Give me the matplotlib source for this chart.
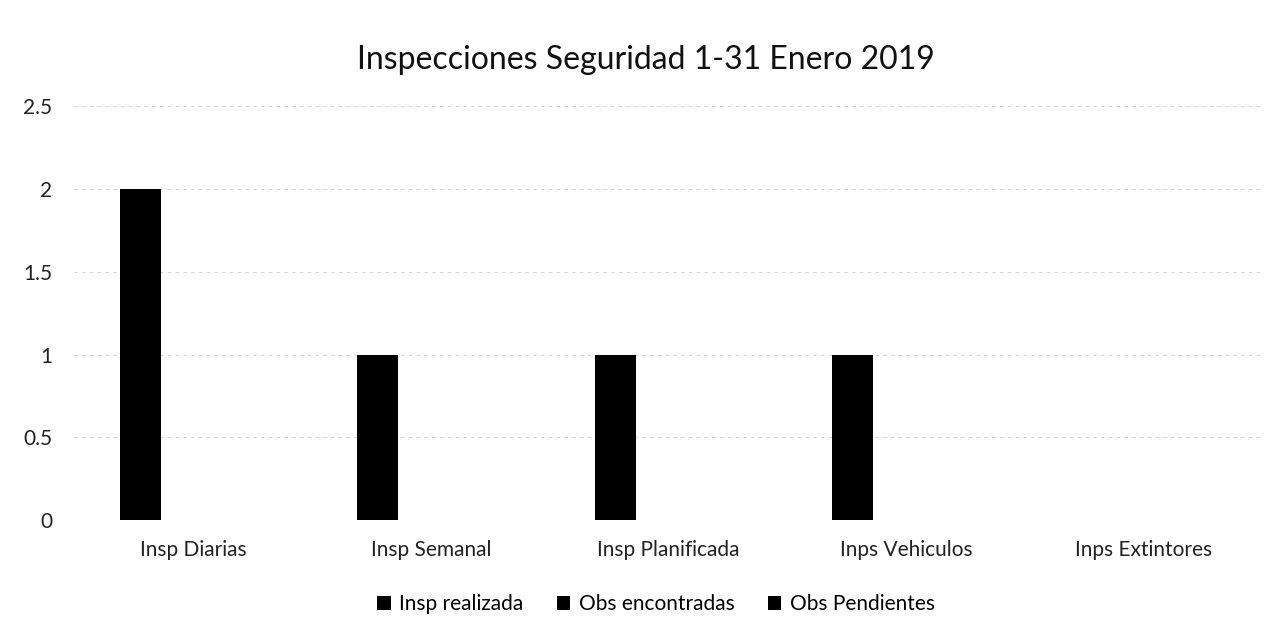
import numpy as np
import matplotlib
matplotlib.use("Agg")
import matplotlib.pyplot as plt

categories = ["Insp Diarias", "Insp Semanal", "Insp Planificada", "Inps Vehiculos", "Inps Extintores"]
series_names = ["Insp realizada", "Obs encontradas", "Obs Pendientes"]
insp_realizada = [2, 1, 1, 1, 0]
obs_encontradas = [0, 0, 0, 0, 0]
obs_pendientes = [0, 0, 0, 0, 0]
series_values = [insp_realizada, obs_encontradas, obs_pendientes]
yticks = [0, 0.5, 1, 1.5, 2, 2.5]
ytick_labels = ["0", "0.5", "1", "1.5", "2", "2.5"]

plt.rcParams['font.family'] = ['Lato', 'DejaVu Sans']

fig = plt.figure(figsize=(12.84, 6.32), dpi=100)
ax = fig.add_axes([0.058, 0.177, 0.925, 0.655])

x = np.arange(len(categories))
w = 0.173
shift = -0.05
for k, (name, vals) in enumerate(zip(series_names, series_values)):
    ax.bar(x + (k - 1) * w + shift, vals, width=w, color="black", label=name)

ax.set_xlim(-0.5, len(categories) - 0.5)
ax.set_ylim(0, 2.5)
ax.set_yticks(yticks)
ax.set_yticklabels(ytick_labels)
ax.set_xticks(x)
ax.set_xticklabels(categories)
ax.tick_params(axis="both", length=0, labelsize=15, colors="#222222")
ax.tick_params(axis="x", pad=14)
ax.tick_params(axis="y", pad=16)
ax.yaxis.grid(True, color="#d4d4d4", linewidth=0.8, linestyle=(0, (3, 4)))
ax.set_axisbelow(True)
for s in ax.spines.values():
    s.set_visible(False)

fig.text(0.503, 0.905, "Inspecciones Seguridad 1-31 Enero 2019", ha="center", va="center",
         fontsize=23, color="#111111")

fig.legend(loc="center", bbox_to_anchor=(0.511, 0.044), ncol=3, frameon=False,
           fontsize=15, handlelength=0.65, handleheight=0.65, handletextpad=0.4, columnspacing=1.6)

fig.savefig("out.png", dpi=100)
